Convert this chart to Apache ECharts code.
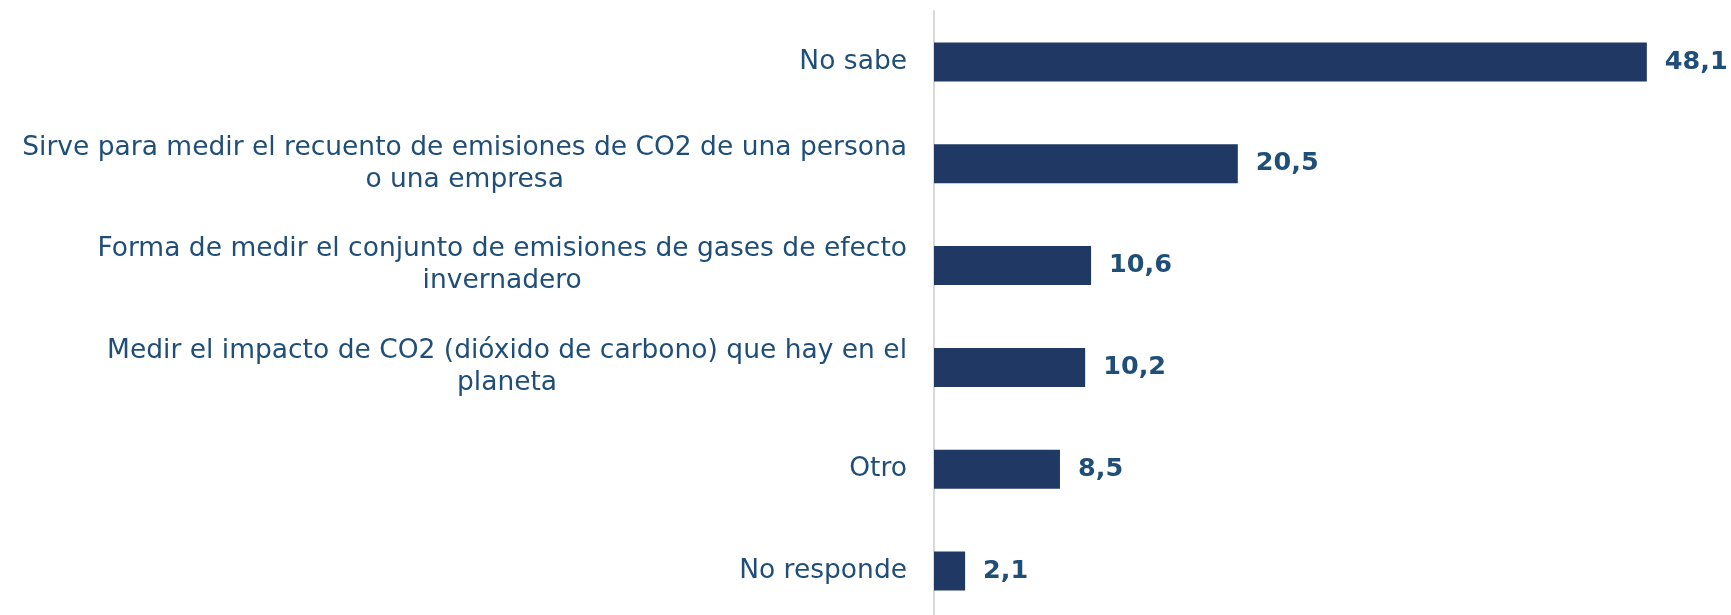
<!DOCTYPE html>
<html>
<head>
<meta charset="utf-8">
<script src="https://cdn.jsdelivr.net/npm/echarts@6/dist/echarts.min.js"></script>
<style>
  html, body { margin: 0; padding: 0; background: #ffffff; }
  #chart { width: 1731px; height: 615px; }
</style>
</head>
<body>
<div id="chart"></div>
<script>
const categories = [
  'No sabe',
  'Sirve para medir el recuento de emisiones de CO2 de una persona\no una empresa',
  'Forma de medir el conjunto de emisiones de gases de efecto\ninvernadero',
  'Medir el impacto de CO2 (dióxido de carbono) que hay en el\nplaneta',
  'Otro',
  'No responde',
];
const values = [48.1, 20.5, 10.6, 10.2, 8.5, 2.1];

const TEXT_COLOR = '#1f4e79';
const BAR_COLOR = '#203864';
const FONT = '"DejaVu Sans", Verdana, sans-serif';

const chart = echarts.init(document.getElementById('chart'), null, { renderer: 'canvas' });

chart.setOption({
  animation: false,
  backgroundColor: '#ffffff',
  grid: {
    left: 934,
    right: 56,
    top: 11,
    height: 611,
    containLabel: false,
    outerBoundsMode: 'none',
  },
  xAxis: {
    type: 'value',
    min: 0,
    max: 50,
    show: false,
  },
  yAxis: {
    type: 'category',
    inverse: true,
    data: categories,
    axisLine: { show: true, lineStyle: { color: '#d9d9d9', width: 2 } },
    axisTick: { show: false },
    axisLabel: {
      margin: 27,
      fontFamily: FONT,
      fontSize: 26.5,
      lineHeight: 32,
      color: TEXT_COLOR,
      formatter: (name) => name.split('\n').map((line) => `{c|${line}}`).join('\n'),
      rich: {
        c: {
          align: 'center',
          fontFamily: FONT,
          fontSize: 26.5,
          lineHeight: 32,
          color: TEXT_COLOR,
        },
      },
    },
  },
  series: [
    {
      type: 'bar',
      data: values,
      barWidth: 39,
      itemStyle: { color: BAR_COLOR },
      label: {
        show: true,
        position: 'right',
        distance: 18,
        fontFamily: FONT,
        fontSize: 25.5,
        fontWeight: 'bold',
        color: TEXT_COLOR,
        formatter: (p) => p.value.toFixed(1).replace('.', ','),
      },
    },
  ],
});
</script>
</body>
</html>
